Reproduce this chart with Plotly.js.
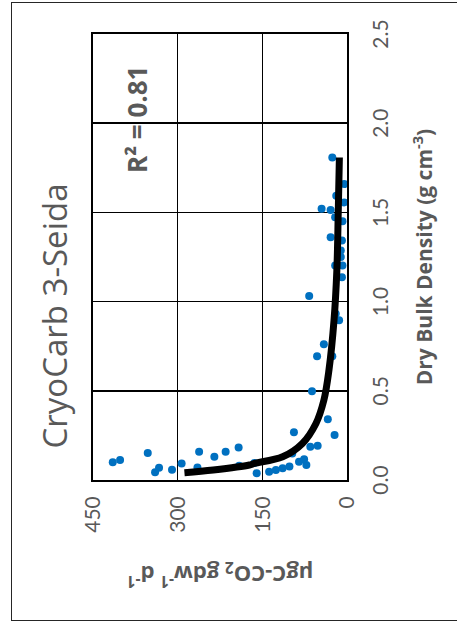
<!DOCTYPE html>
<html>
<head>
<meta charset="utf-8">
<script src="https://cdn.plot.ly/plotly-3.0.1.min.js"></script>
<style>
html,body{margin:0;padding:0;background:#fff;}
#wrap{position:absolute;left:0;top:0;width:457px;height:632px;overflow:hidden;background:#fff;}
#rot{position:absolute;left:0;top:632px;width:632px;height:480px;transform-origin:0 0;transform:rotate(-90deg);}
#plot{width:632px;height:480px;}
#frame{position:absolute;left:11px;top:11px;width:617px;height:520px;border:1.5px solid #262626;pointer-events:none;}
</style>
</head>
<body>
<div id="wrap"><div id="rot"><div id="plot"></div><div id="frame"></div></div></div>
<script>
// Observed points: dry bulk density (g cm-3) and respiration (µgC-CO2 gdw-1 d-1)
const density = [0.099,0.112,0.151,0.043,0.069,0.058,0.093,0.158,0.070,0.130,0.159,0.182,0.080,0.095,0.038,0.046,0.056,0.066,0.075,0.149,0.267,0.102,0.116,0.084,0.186,0.192,0.340,0.252,0.497,0.694,0.761,0.694,1.031,0.932,0.895,1.137,1.202,1.202,1.250,1.286,1.342,1.361,1.473,1.520,1.514,1.594,1.556,1.659,1.808,1.450];
const respiration = [415,402,353,340,333,310,293,262,265,235,215,192,191,164,160,138,126,114,102,97,94,85,76,72,65,52,34,22,62,53,41,26,67,20,14,9,21,8,11,11,9,29,21,45,29,19,5,5,26,8];
// Fitted trend line
const fitDensity = [0.041,0.056,0.084,0.093,0.130,0.205,0.317,0.447,0.615,0.895,1.174,1.500,1.808];
const fitResp = [288,237,173,164,114,79,55,41,32,23,18,15.5,13.5];
const xTicks = [0,0.5,1,1.5,2,2.5];
const yTicks = [0,150,300,450];

const grey = '#595959';
const fnt = 'Lato, "Open Sans", sans-serif';
const bfnt = '"Open Sans", "Noto Sans", sans-serif';

const data = [
  {x: density, y: respiration, type:'scatter', mode:'markers',
   marker:{color:'#0070C0', size:8}, showlegend:false, hoverinfo:'skip'},
  {x: fitDensity, y: fitResp, type:'scatter', mode:'lines',
   line:{color:'#000', width:7, shape:'spline', smoothing:1}, showlegend:false, hoverinfo:'skip'}
];

const layout = {
  width:632, height:480,
  margin:{l:152, r:34, t:93, b:133},
  paper_bgcolor:'#fff', plot_bgcolor:'#fff',
  font:{family:fnt, color:grey},
  title:{text:'CryoCarb 3-Seida', font:{size:33, color:grey, family:'"Open Sans", sans-serif'},
         x:0.5, xref:'container', xanchor:'center', y:0.885, yref:'container', yanchor:'middle'},
  xaxis:{range:[0,2.5], tickvals:xTicks, tickformat:'.1f', showgrid:true, gridcolor:'#000', gridwidth:1.5,
         showline:true, linecolor:'#000', linewidth:2, mirror:true, zeroline:false, ticks:'',
         ticklabelstandoff:14, tickfont:{size:21, color:grey, family:fnt},
         title:{text:'Dry Bulk Density (g cm<sup>-3</sup>)', font:{size:21, color:grey, family:bfnt, weight:700}, standoff:26}},
  yaxis:{range:[0,450], tickvals:yTicks, showgrid:true, gridcolor:'#000', gridwidth:1.5,
         showline:true, linecolor:'#000', linewidth:2, mirror:true, zeroline:false, ticks:'',
         ticklabelstandoff:10, tickfont:{size:21, color:grey, family:fnt},
         title:{text:'µgC-CO<sub>2</sub> gdw<sup>-1</sup> d<sup>-1</sup>', font:{size:22, color:grey, family:bfnt, weight:700}, standoff:27}},
  annotations:[{x:2.02, y:372, xref:'x', yref:'y', text:'R² = 0.81', showarrow:false,
                font:{size:26, color:grey, family:bfnt, weight:700}, xanchor:'center', yanchor:'middle'}]
};

Plotly.newPlot('plot', data, layout, {staticPlot:true, displayModeBar:false});
</script>
</body>
</html>
